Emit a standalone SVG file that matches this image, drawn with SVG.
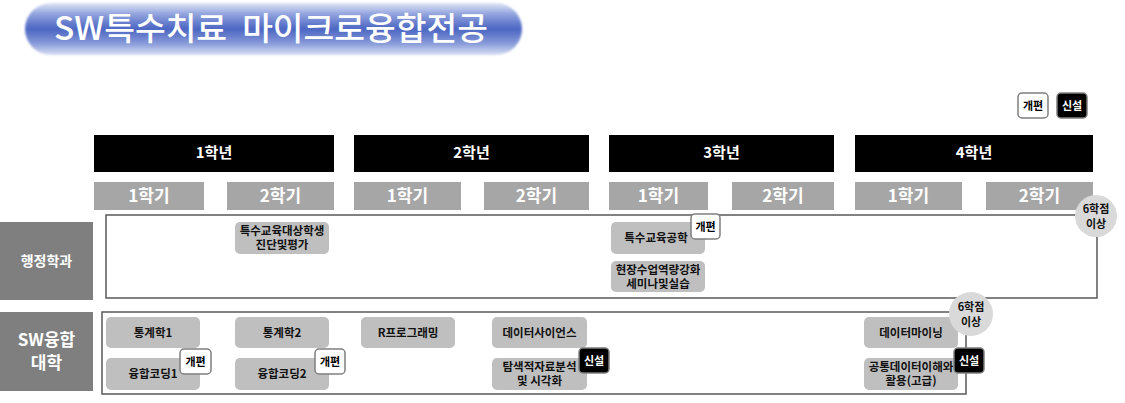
<svg xmlns="http://www.w3.org/2000/svg" width="1125" height="403" viewBox="0 0 1125 403">
<defs>
<linearGradient id="pill" x1="0" y1="0" x2="0" y2="1">
<stop offset="0" stop-color="#dfe5f6"/>
<stop offset="0.22" stop-color="#90a2dd"/>
<stop offset="0.5" stop-color="#4b65c2"/>
<stop offset="0.78" stop-color="#889bd9"/>
<stop offset="1" stop-color="#d9e0f4"/>
</linearGradient>
<filter id="soft" x="-5%" y="-20%" width="110%" height="140%"><feGaussianBlur stdDeviation="1.2"/></filter>
</defs>
<style>
text{font-family:"Noto Sans CJK KR","Liberation Sans",sans-serif;text-anchor:middle}
.year rect{fill:#000}
.year text{fill:#fff;font-size:15px;font-weight:bold}
.sem rect{fill:#a6a6a6}
.sem text{fill:#fff;font-size:17px;font-weight:bold}
.row rect{fill:#7f7f7f}
.row text{fill:#fff;font-weight:bold}
.frame{fill:#fff;stroke:#595959;stroke-width:1.5}
.node rect{fill:#bfbfbf}
.node text{fill:#111;font-size:11.5px;font-weight:bold}
.node rect.b1,#legend rect.b1{fill:#fff;stroke:#7f7f7f;stroke-width:1.5}
.node rect.b2,#legend rect.b2{fill:#000;stroke:#7f7f7f;stroke-width:1.5}
.node text.bt1,#legend text.bt1{fill:#000;font-size:11px;font-weight:bold}
.node text.bt2,#legend text.bt2{fill:#fff;font-size:11px;font-weight:bold}
.circ circle{fill:#d9d9d9}
.circ text{fill:#111;font-size:11px;font-weight:bold}
</style>
<rect width="1125" height="403" fill="#fff"/>

<g id="title">
<rect x="25" y="3" width="497" height="52" rx="26" fill="url(#pill)" filter="url(#soft)"/>
<text x="271" y="40" style="white-space:pre" font-size="32" font-weight="500" fill="#fff" textLength="434" lengthAdjust="spacingAndGlyphs">SW특수치료  마이크로융합전공</text>
</g>

<g id="legend">
<rect class="b1" x="1018" y="93" width="30" height="25" rx="4"/>
<text class="bt1" x="1033" y="109.5">개편</text>
<rect class="b2" x="1057" y="93" width="30" height="25" rx="4"/>
<text class="bt2" x="1072" y="109.5">신설</text>
</g>

<g id="years" class="year">
<rect x="94" y="135" width="240" height="37"/><text x="214" y="158">1학년</text>
<rect x="354" y="135" width="235" height="37"/><text x="471.5" y="158">2학년</text>
<rect x="609" y="135" width="225" height="37"/><text x="721.5" y="158">3학년</text>
<rect x="855" y="135" width="238" height="37"/><text x="974" y="158">4학년</text>
</g>

<g id="semesters" class="sem">
<rect x="94" y="182" width="110" height="28"/><text x="149" y="202">1학기</text>
<rect x="227" y="182" width="107" height="28"/><text x="280.5" y="202">2학기</text>
<rect x="354" y="182" width="107" height="28"/><text x="407.5" y="202">1학기</text>
<rect x="484" y="182" width="105" height="28"/><text x="536.5" y="202">2학기</text>
<rect x="609" y="182" width="99" height="28"/><text x="658.5" y="202">1학기</text>
<rect x="732" y="182" width="102" height="28"/><text x="783" y="202">2학기</text>
<rect x="855" y="182" width="107" height="28"/><text x="908.5" y="202">1학기</text>
<rect x="986" y="182" width="107" height="28"/><text x="1039.5" y="202">2학기</text>
</g>

<g id="row-admin" class="row">
<rect x="0" y="222" width="93" height="78"/>
<text x="46.5" y="266" font-size="14">행정학과</text>
</g>
<g id="row-sw" class="row">
<rect x="0" y="312" width="93" height="79"/>
<text x="46.5" y="346" font-size="17">SW융합</text>
<text x="46.5" y="369" font-size="17">대학</text>
</g>

<g id="frames">
<rect class="frame" x="106" y="215" width="991" height="83"/>
<rect class="frame" x="102" y="312" width="864" height="82"/>
</g>

<g id="n-special-eval" class="node">
<rect x="235" y="222" width="94" height="32" rx="5"/>
<text x="282" y="235">특수교육대상학생</text>
<text x="282" y="249">진단및평가</text>
</g>
<g id="n-special-tech" class="node">
<rect x="611" y="222" width="94" height="32" rx="5"/>
<text x="656" y="242">특수교육공학</text>
<rect class="b1" x="691" y="214" width="29" height="25" rx="4"/>
<text class="bt1" x="705.5" y="230.5">개편</text>
</g>
<g id="n-field" class="node">
<rect x="611" y="261" width="94" height="31" rx="5"/>
<text x="658" y="274">현장수업역량강화</text>
<text x="658" y="288">세미나및실습</text>
</g>

<g id="n-stat1" class="node">
<rect x="106" y="317" width="94" height="31" rx="5"/>
<text x="153" y="337">통계학1</text>
</g>
<g id="n-code1" class="node">
<rect x="106" y="358" width="94" height="32" rx="5"/>
<text x="153" y="378">융합코딩1</text>
<rect class="b1" x="180" y="349" width="31" height="25" rx="4"/>
<text class="bt1" x="195.5" y="365.5">개편</text>
</g>
<g id="n-stat2" class="node">
<rect x="235" y="317" width="94" height="31" rx="5"/>
<text x="282" y="337">통계학2</text>
</g>
<g id="n-code2" class="node">
<rect x="235" y="358" width="94" height="32" rx="5"/>
<text x="282" y="378">융합코딩2</text>
<rect class="b1" x="315" y="349" width="30" height="25" rx="4"/>
<text class="bt1" x="330" y="365.5">개편</text>
</g>
<g id="n-r" class="node">
<rect x="361" y="317" width="94" height="31" rx="5"/>
<text x="408" y="337">R프로그래밍</text>
</g>
<g id="n-ds" class="node">
<rect x="492" y="317" width="95" height="31" rx="5"/>
<text x="539.5" y="337">데이터사이언스</text>
</g>
<g id="n-eda" class="node">
<rect x="492" y="358" width="95" height="32" rx="5"/>
<text x="539.5" y="371">탐색적자료분석</text>
<text x="539.5" y="385">및 시각화</text>
<rect class="b2" x="579" y="348" width="30" height="25" rx="4"/>
<text class="bt2" x="594" y="364.5">신설</text>
</g>
<g id="n-dm" class="node">
<rect x="864" y="317" width="94" height="31" rx="5"/>
<text x="911" y="337">데이터마이닝</text>
</g>
<g id="n-public" class="node">
<rect x="864" y="358" width="94" height="32" rx="5"/>
<text x="911" y="371">공통데이터이해와</text>
<text x="911" y="385">활용(고급)</text>
<rect class="b2" x="954" y="348" width="30" height="25" rx="4"/>
<text class="bt2" x="969" y="364.5">신설</text>
</g>

<g id="credit-admin" class="circ">
<circle cx="1096" cy="216" r="21"/>
<text x="1096" y="213">6학점</text>
<text x="1096" y="228">이상</text>
</g>
<g id="credit-sw" class="circ">
<circle cx="971" cy="314" r="22"/>
<text x="971" y="311">6학점</text>
<text x="971" y="326">이상</text>
</g>
</svg>
